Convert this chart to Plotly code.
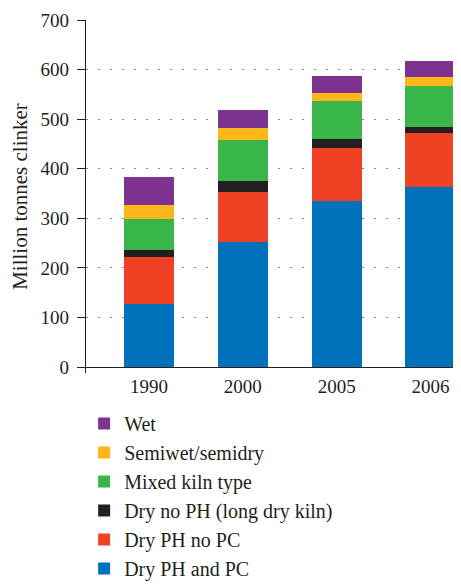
import plotly.graph_objects as go

years = ["1990", "2000", "2005", "2006"]
series_names = ["Dry PH and PC", "Dry PH no PC", "Dry no PH (long dry kiln)",
                "Mixed kiln type", "Semiwet/semidry", "Wet"]
dry_ph_pc = [127, 252, 334, 364]
dry_ph_no_pc = [94, 102, 107, 109]
dry_no_ph = [16, 21, 18, 12]
mixed = [61, 82, 77, 82]
semiwet = [28, 25, 16, 18]
wet = [57, 36, 36, 33]
colors = ["#0072BC", "#EF4123", "#231F20", "#3AB54A", "#FDB71A", "#7E3391"]
y_ticks = [0, 100, 200, 300, 400, 500, 600, 700]

values = [dry_ph_pc, dry_ph_no_pc, dry_no_ph, mixed, semiwet, wet]
font_family = "Liberation Serif, Times New Roman, serif"

fig = go.Figure()
n = len(series_names)
for i, (name, vals, col) in enumerate(zip(series_names, values, colors)):
    fig.add_trace(go.Bar(x=years, y=vals, name=name, marker_color=col,
                         marker_line_width=0, width=0.533, legendgroup=name,
                         legendrank=n - i))

fig.update_layout(
    barmode="stack",
    width=453, height=576,
    margin=dict(l=78, r=0, t=12, b=211, autoexpand=False),
    plot_bgcolor="white", paper_bgcolor="white",
    font=dict(family=font_family, size=19, color="#231F20"),
    showlegend=True,
    legend=dict(x=-0.005, xanchor="left", y=-0.088, yanchor="top",
                traceorder="grouped", tracegroupgap=0,
                font=dict(size=20), bgcolor="rgba(0,0,0,0)"),
    xaxis=dict(type="category", range=[-0.671, 3.325], showline=False,
               showgrid=False, ticks="", tickfont=dict(size=19)),
    yaxis=dict(range=[-12, 700], tickvals=y_ticks, showline=True, linecolor="#231F20",
               linewidth=1.3, ticks="outside", ticklen=8, tickcolor="#231F20",
               tickwidth=1.2, ticklabelstandoff=4,
               showgrid=True, gridcolor="#888888", gridwidth=1.2, griddash="1.5px,10.5px",
               zeroline=True, zerolinecolor="#231F20", zerolinewidth=1.3,
               title=dict(text="Million tonnes clinker", font=dict(size=21), standoff=8),
               tickfont=dict(size=19)),
)

fig.write_html("out.html")
